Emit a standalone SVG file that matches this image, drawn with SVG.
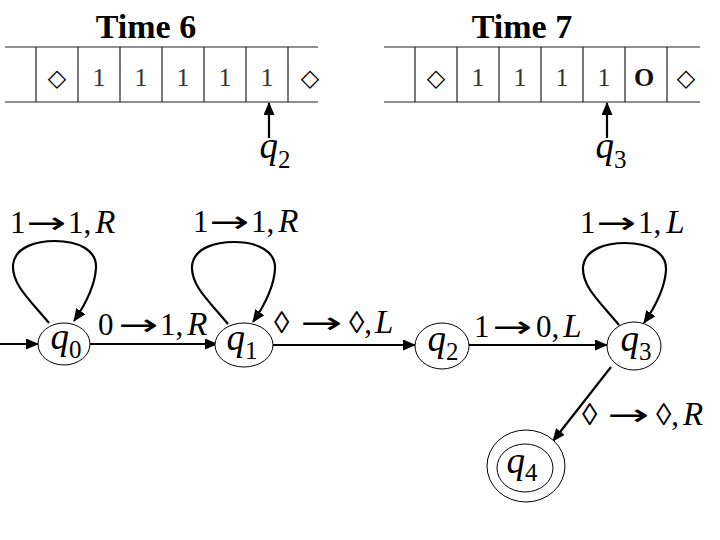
<svg xmlns="http://www.w3.org/2000/svg" width="720" height="540" viewBox="0 0 720 540">
<style>
  .tape{stroke:#222;stroke-width:1.2;fill:none}
  .cell{font-family:"Liberation Serif","Times New Roman",serif;font-size:26px;fill:#333;text-anchor:middle}
  .dia{font-family:"DejaVu Sans",sans-serif;font-size:24px;font-weight:bold;fill:#000;text-anchor:middle}
  .title{font-family:"Liberation Serif","Times New Roman",serif;font-size:34px;font-weight:bold;text-anchor:middle}
  .st{fill:#fff;stroke:#000;stroke-width:1}
  .edge{stroke:#000;stroke-width:2.2;fill:none}
  .q{font-family:"Liberation Serif","Times New Roman",serif;font-size:37px;font-style:italic;text-anchor:middle}
  .sub{font-style:normal;font-size:25px}
  .lab{font-family:"Liberation Serif","Times New Roman",serif;font-size:31px}
  .arr{font-family:"DejaVu Sans",sans-serif;font-size:30px}
  .it{font-style:italic;font-size:33px}
</style>
<defs>
  <marker id="ah" markerUnits="userSpaceOnUse" markerWidth="13" markerHeight="11" refX="12" refY="5.5" orient="auto">
    <path d="M0,0 L13,5.5 L0,11 z" fill="#000"/>
  </marker>
</defs>
<rect width="720" height="540" fill="#fff"/>

<g id="tape6">
  <text class="title" x="146" y="38">Time 6</text>
  <line class="tape" x1="5" y1="47" x2="318" y2="47"/>
  <line class="tape" x1="5" y1="102" x2="318" y2="102"/>
  <path class="tape" d="M36,47V102 M78,47V102 M120,47V102 M162,47V102 M204,47V102 M246,47V102 M288,47V102"/>
  <text class="dia" x="57" y="86">◇</text>
  <text class="cell" x="99" y="86">1</text>
  <text class="cell" x="141" y="86">1</text>
  <text class="cell" x="183" y="86">1</text>
  <text class="cell" x="225" y="86">1</text>
  <text class="cell" x="267" y="86">1</text>
  <text class="dia" x="310" y="86">◇</text>
  <text class="q" x="275" y="158">q<tspan class="sub" dy="10">2</tspan></text>
</g>

<g id="tape7">
  <text class="title" x="522" y="38">Time 7</text>
  <line class="tape" x1="384" y1="47" x2="700" y2="47"/>
  <line class="tape" x1="384" y1="102" x2="700" y2="102"/>
  <path class="tape" d="M415,47V102 M457,47V102 M499,47V102 M541,47V102 M583,47V102 M625,47V102 M667,47V102"/>
  <text class="dia" x="436" y="86">◇</text>
  <text class="cell" x="478" y="86">1</text>
  <text class="cell" x="520" y="86">1</text>
  <text class="cell" x="562" y="86">1</text>
  <text class="cell" x="604" y="86">1</text>
  <text class="cell" x="644" y="86" style="font-weight:bold;fill:#111">O</text>
  <text class="dia" x="686" y="86">◇</text>
  <text class="q" x="611" y="158">q<tspan class="sub" dy="10">3</tspan></text>
</g>

<g id="connectors">
  <line class="edge" x1="269" y1="138" x2="269" y2="103" marker-end="url(#ah)"/>
  <line class="edge" x1="607" y1="138" x2="607" y2="103" marker-end="url(#ah)"/>
  <line class="edge" x1="0" y1="344" x2="38" y2="344" marker-end="url(#ah)"/>
  <line class="edge" x1="90" y1="344" x2="217" y2="344" marker-end="url(#ah)"/>
  <line class="edge" x1="273" y1="345" x2="415" y2="345" marker-end="url(#ah)"/>
  <line class="edge" x1="469" y1="345" x2="607" y2="345" marker-end="url(#ah)"/>
  <line class="edge" x1="611" y1="367" x2="553" y2="441" marker-end="url(#ah)"/>
  <path class="edge" d="M49,323 C30,300 12,285 13,265 C15,246 38,241 55,241 C78,241 97,250 96,268 C95,285 85,305 74,321" marker-end="url(#ah)"/>
  <path class="edge" transform="translate(179,1)" d="M49,323 C30,300 12,285 13,265 C15,246 38,241 55,241 C78,241 97,250 96,268 C95,285 85,305 74,321" marker-end="url(#ah)"/>
  <path class="edge" transform="translate(570,2)" d="M49,323 C30,300 12,285 13,265 C15,246 38,241 55,241 C78,241 97,250 96,268 C95,285 85,305 74,321" marker-end="url(#ah)"/>

  <g id="lab-q0-loop">
    <text class="lab" x="10" y="233">1</text>
    <text class="arr" x="26" y="233" textLength="40" lengthAdjust="spacingAndGlyphs">→</text>
    <text class="lab" x="68" y="233">1,<tspan class="it" dx="4">R</tspan></text>
  </g>
  <g id="lab-q1-loop">
    <text class="lab" x="193" y="232">1</text>
    <text class="arr" x="209" y="232" textLength="40" lengthAdjust="spacingAndGlyphs">→</text>
    <text class="lab" x="251" y="232">1,<tspan class="it" dx="4">R</tspan></text>
  </g>
  <g id="lab-q3-loop">
    <text class="lab" x="580" y="233">1</text>
    <text class="arr" x="596" y="233" textLength="40" lengthAdjust="spacingAndGlyphs">→</text>
    <text class="lab" x="638" y="233">1,<tspan class="it" dx="5">L</tspan></text>
  </g>
  <g id="lab-q0-q1">
    <text class="lab" x="98" y="335">0</text>
    <text class="arr" x="118" y="335" textLength="40" lengthAdjust="spacingAndGlyphs">→</text>
    <text class="lab" x="160" y="335">1,<tspan class="it" dx="4">R</tspan></text>
  </g>
  <g id="lab-q1-q2">
    <text class="lab" x="274" y="333">◊</text>
    <text class="arr" x="300" y="333" textLength="42" lengthAdjust="spacingAndGlyphs">→</text>
    <text class="lab" x="349" y="333">◊,<tspan class="it" dx="3">L</tspan></text>
  </g>
  <g id="lab-q2-q3">
    <text class="lab" x="474" y="337">1</text>
    <text class="arr" x="492" y="337" textLength="40" lengthAdjust="spacingAndGlyphs">→</text>
    <text class="lab" x="536" y="337">0,<tspan class="it" dx="4">L</tspan></text>
  </g>
  <g id="lab-q3-q4">
    <text class="lab" x="582" y="425">◊</text>
    <text class="arr" x="607" y="425" textLength="42" lengthAdjust="spacingAndGlyphs">→</text>
    <text class="lab" x="656" y="425">◊,<tspan class="it" dx="4">R</tspan></text>
  </g>
</g>

<g id="q0">
  <ellipse class="st" cx="64" cy="344" rx="26" ry="21"/>
  <text class="q" x="66" y="349">q<tspan class="sub" dy="9">0</tspan></text>
</g>
<g id="q1">
  <ellipse class="st" cx="244" cy="345" rx="29" ry="22"/>
  <text class="q" x="242" y="350">q<tspan class="sub" dy="9">1</tspan></text>
</g>
<g id="q2">
  <ellipse class="st" cx="442" cy="346" rx="27" ry="23"/>
  <text class="q" x="443" y="351">q<tspan class="sub" dy="9">2</tspan></text>
</g>
<g id="q3">
  <ellipse class="st" cx="634" cy="346" rx="27" ry="24"/>
  <text class="q" x="636" y="351">q<tspan class="sub" dy="9">3</tspan></text>
</g>
<g id="q4">
  <ellipse class="st" cx="526" cy="466" rx="39" ry="36"/>
  <ellipse class="st" cx="525" cy="468" rx="28" ry="24"/>
  <text class="q" x="522" y="473">q<tspan class="sub" dy="8">4</tspan></text>
</g>
</svg>
